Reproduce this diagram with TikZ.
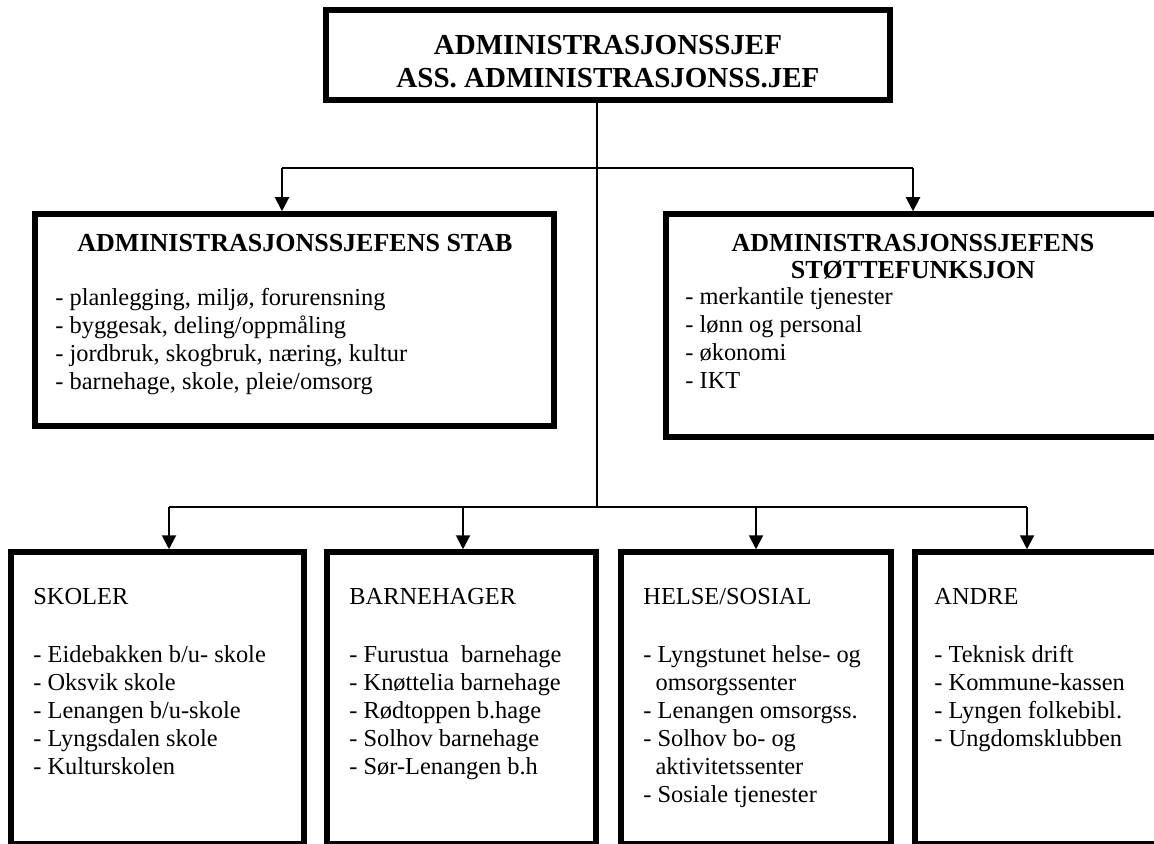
\documentclass[tikz,border=0pt]{standalone}
\usepackage{fontspec}
\setmainfont{Liberation Serif}[BoldFont={Liberation Serif Bold}]
\usetikzlibrary{arrows.meta,fit}

\tikzset{
  box/.style={draw, line width=2.75pt, inner sep=0pt},
  link/.style={line width=1pt},
  arr/.style={link, -{Triangle[width=7pt,length=7pt]}},
  title/.style={font=\fontsize{13}{13.5}\selectfont\bfseries, align=center},
  items/.style={font=\fontsize{12.2}{14}\selectfont, align=left, anchor=north west, inner sep=0pt},
}

\begin{document}
\begin{tikzpicture}[x=0.5pt,y=-0.5pt]
\useasboundingbox (0,0) rectangle (1154,844);

% boxes
\node[box, fit={(326,10) (890,100)}] (chief) {};
\node[box, fit={(35,214) (554,426)}] (stab) {};
\node[box, fit={(666,214) (1170,437)}] (stotte) {};
\node[box, fit={(11,552) (304,844)}] (skoler) {};
\node[box, fit={(327,552) (596,844)}] (barnehager) {};
\node[box, fit={(621,552) (891,844)}] (helse) {};
\node[box, fit={(915,552) (1170,844)}] (andre) {};

% connectors
\coordinate (upper) at (597,168);
\coordinate (lower) at (597,507);
\coordinate (stabin) at (282,168);
\coordinate (stottein) at (913,168);
\coordinate (skolerin) at (169,507);
\coordinate (barnehagerin) at (463,507);
\coordinate (helsein) at (756,507);
\coordinate (andrein) at (1027,507);

\draw[link] (chief.south -| lower) -- (lower);
\draw[link] (stabin) -- (stottein);
\draw[link] (skolerin) -- (andrein);
\draw[arr] (stabin) -- (stabin |- stab.north);
\draw[arr] (stottein) -- (stottein |- stotte.north);
\foreach \n in {skoler,barnehager,helse,andre}
  \draw[arr] (\n in) -- (\n in |- \n.north);

% texts
\node[font=\fontsize{14.5}{16.5}\selectfont\bfseries, align=center] (chieftext) at (608,62)
  {ADMINISTRASJONSSJEF\\ASS. ADMINISTRASJONSS.JEF};

\node[title] (stabtitle) at (295,243) {ADMINISTRASJONSSJEFENS STAB};
\node[items] (stabitems) at (55,288) {- planlegging, miljø, forurensning\\
  - byggesak, deling/oppmåling\\
  - jordbruk, skogbruk, næring, kultur\\
  - barnehage, skole, pleie/omsorg};

\node[title] (stottetitle) at (913,257) {ADMINISTRASJONSSJEFENS\\STØTTEFUNKSJON};
\node[items] (stotteitems) at (685,287) {- merkantile tjenester\\
  - lønn og personal\\
  - økonomi\\
  - IKT};

\node[items] (skolertext) at (33,588) {SKOLER\\[15pt]
  - Eidebakken b/u- skole\\
  - Oksvik skole\\
  - Lenangen b/u-skole\\
  - Lyngsdalen skole\\
  - Kulturskolen};

\node[items] (barnehagertext) at (349,588) {BARNEHAGER\\[15pt]
  - Furustua\ \ barnehage\\
  - Knøttelia barnehage\\
  - Rødtoppen b.hage\\
  - Solhov barnehage\\
  - Sør-Lenangen b.h};

\node[items] (helsetext) at (643,588) {HELSE/SOSIAL\\[15pt]
  - Lyngstunet helse- og\\
  \ \ omsorgssenter\\
  - Lenangen omsorgss.\\
  - Solhov bo- og\\
  \ \ aktivitetssenter\\
  - Sosiale tjenester};

\node[items] (andretext) at (934,588) {ANDRE\\[15pt]
  - Teknisk drift\\
  - Kommune-kassen\\
  - Lyngen folkebibl.\\
  - Ungdomsklubben};

\end{tikzpicture}
\end{document}
